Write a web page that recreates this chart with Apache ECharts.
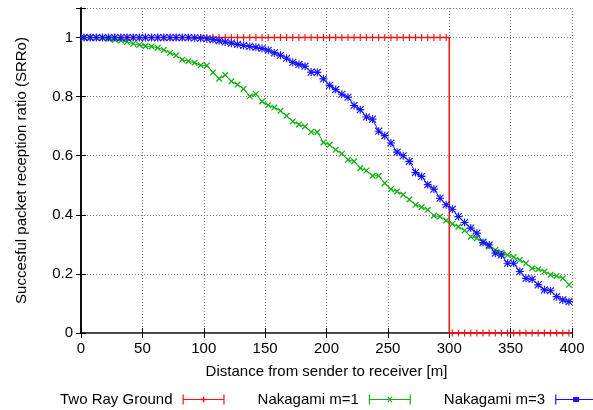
<!DOCTYPE html>
<html>
<head>
<meta charset="utf-8">
<script src="https://cdn.jsdelivr.net/npm/echarts@6/dist/echarts.min.js"></script>
<style>html,body{margin:0;padding:0;background:#fff;}#c{width:593px;height:410px;}</style>
</head>
<body>
<div id="c"></div>
<script>
// distance sample positions [m]
const distX = [2.5,7.5,12.5,17.5,22.5,27.5,32.5,37.5,42.5,47.5,52.5,57.5,62.5,67.5,72.5,77.5,82.5,87.5,92.5,97.5,
  102.5,107.5,112.5,117.5,122.5,127.5,132.5,137.5,142.5,147.5,152.5,157.5,162.5,167.5,172.5,177.5,182.5,187.5,192.5,197.5,
  202.5,207.5,212.5,217.5,222.5,227.5,232.5,237.5,242.5,247.5,252.5,257.5,262.5,267.5,272.5,277.5,282.5,287.5,292.5,297.5,
  302.5,307.5,312.5,317.5,322.5,327.5,332.5,337.5,342.5,347.5,352.5,357.5,362.5,367.5,372.5,377.5,382.5,387.5,392.5,397.5];
// Two Ray Ground
const twoRayY = [1,1,1,1,1,1,1,1,1,1,1,1,1,1,1,1,1,1,1,1,
  1,1,1,1,1,1,1,1,1,1,1,1,1,1,1,1,1,1,1,1,
  1,1,1,1,1,1,1,1,1,1,1,1,1,1,1,1,1,1,1,1,
  0,0,0,0,0,0,0,0,0,0,0,0,0,0,0,0,0,0,0,0];
const twoRayDropAt = 300;
// Nakagami m=1
const nak1Y = [1.0,1.0,1.0,0.999,0.996,0.993,0.99,0.985,0.979,0.975,0.971,0.970,0.965,0.958,0.948,0.94,0.925,0.92,0.915,0.906,
  0.905,0.882,0.861,0.873,0.852,0.841,0.826,0.801,0.809,0.784,0.771,0.763,0.752,0.735,0.716,0.706,0.699,0.680,0.680,0.645,
  0.637,0.620,0.607,0.586,0.581,0.558,0.550,0.532,0.532,0.507,0.487,0.479,0.468,0.452,0.434,0.426,0.417,0.397,0.394,0.381,
  0.369,0.360,0.347,0.326,0.321,0.309,0.293,0.281,0.272,0.264,0.257,0.247,0.236,0.219,0.216,0.208,0.197,0.193,0.185,0.163];
// Nakagami m=3
const nak3Y = [1,1,1,1,1,1,1,1,1,1,1,1,1,1,1,1,1,1,0.999,0.998,
  0.996,0.993,0.989,0.985,0.981,0.977,0.973,0.970,0.967,0.963,0.957,0.948,0.940,0.930,0.916,0.909,0.903,0.883,0.882,0.860,
  0.838,0.824,0.808,0.798,0.770,0.756,0.731,0.724,0.683,0.668,0.643,0.612,0.600,0.581,0.543,0.530,0.502,0.487,0.456,0.434,
  0.419,0.394,0.374,0.355,0.338,0.306,0.298,0.270,0.264,0.236,0.236,0.208,0.185,0.182,0.163,0.146,0.143,0.123,0.112,0.106];
const xTicks = {min: 0, max: 400, interval: 50};
const yTicks = {min: 0, max: 1.1, interval: 0.2};
const seriesNames = ['Two Ray Ground', 'Nakagami m=1', 'Nakagami m=3'];
const xName = 'Distance from sender to receiver [m]';
const yName = 'Succesful packet reception ratio (SRRo)';

const FONT = 'Liberation Sans, Arial, Helvetica, sans-serif';
const PLUS = 'path://M0,4.2H10V5.8H0Z M4.2,0H5.8V10H4.2Z';
const STAR = 'path://M0,4.3H10V5.7H0Z M4.3,0H5.7V10H4.3Z M1.2,0.2L9.8,8.8L8.8,9.8L0.2,1.2Z M8.8,0.2L9.8,1.2L1.2,9.8L0.2,8.8Z';
const capLine = 'M0,0H1.2V10H0Z M0,4.4H42V5.6H0Z M40.8,0H42V10H40.8Z';
const iconRed = 'path://' + capLine + ' M20.3,2H21.7V8H20.3Z M18,4.3H24V5.7H18Z';
const iconGreen = 'path://' + capLine + ' M18.5,2.5L19.5,2L23.5,7.5L22.5,8Z M22.5,2L23.5,2.5L19.5,8L18.5,7.5Z';
const iconBlue = 'path://' + capLine + ' M18,2.5H24V7.5H18Z';

const redData = [];
distX.forEach((x, i) => {
  if (i > 0 && distX[i-1] < twoRayDropAt && x > twoRayDropAt) {
    redData.push({value: [twoRayDropAt, twoRayY[i-1]], symbol: 'none'});
    redData.push({value: [twoRayDropAt, twoRayY[i]], symbol: 'none'});
  }
  redData.push([x, twoRayY[i]]);
});
const g1 = distX.map((x, i) => [x, nak1Y[i]]);
const g3 = distX.map((x, i) => [x, nak3Y[i]]);

const colors = ['#ff1010', '#10b010', '#1414ff'];
const chart = echarts.init(document.getElementById('c'), null, {renderer: 'canvas'});
const gridLine = {show: true, lineStyle: {type: [1, 2], color: '#777', width: 1}};
chart.setOption({
  animation: false,
  backgroundColor: '#fff',
  grid: {left: 81, right: 21, top: 8, bottom: 77, containLabel: false},
  legend: {
    left: 60, top: 392, width: 560, padding: 0, align: 'right', itemGap: 33, itemWidth: 42, itemHeight: 10,
    textStyle: {fontFamily: FONT, fontSize: 15, color: '#000', padding: [0, 5, 0, 0]},
    data: [
      {name: seriesNames[0], icon: iconRed},
      {name: seriesNames[1], icon: iconGreen},
      {name: seriesNames[2], icon: iconBlue}
    ]
  },
  xAxis: [{
    type: 'value', min: xTicks.min, max: xTicks.max, interval: xTicks.interval, position: 'bottom',
    name: xName, nameLocation: 'middle', nameGap: 31,
    nameTextStyle: {fontFamily: FONT, fontSize: 15, color: '#000'},
    axisLine: {show: true, lineStyle: {color: '#000', width: 1.5}},
    axisTick: {show: true, inside: true, length: 5, lineStyle: {color: '#000'}},
    axisLabel: {fontFamily: FONT, fontSize: 15, color: '#000', margin: 8},
    splitLine: gridLine
  }, {
    type: 'value', min: xTicks.min, max: xTicks.max, interval: xTicks.interval, position: 'top',
    axisLine: {show: true, lineStyle: {color: '#555', width: 1}},
    axisTick: {show: true, inside: true, length: 5, lineStyle: {color: '#000'}},
    axisLabel: {show: false}, splitLine: {show: false}
  }],
  yAxis: [{
    type: 'value', min: yTicks.min, max: yTicks.max, interval: yTicks.interval, position: 'left',
    name: yName, nameLocation: 'middle', nameGap: 52,
    nameTextStyle: {fontFamily: FONT, fontSize: 15, color: '#000'},
    axisLine: {show: true, lineStyle: {color: '#000', width: 1.5}},
    axisTick: {show: true, inside: true, length: 5, lineStyle: {color: '#000'}},
    axisLabel: {fontFamily: FONT, fontSize: 15, color: '#000', margin: 8,
      formatter: v => v > 1.05 ? '' : String(+v.toFixed(1))},
    splitLine: gridLine
  }, {
    type: 'value', min: yTicks.min, max: yTicks.max, interval: yTicks.interval, position: 'right',
    axisLine: {show: true, lineStyle: {color: '#000', width: 1.5}},
    axisTick: {show: true, inside: true, length: 5, lineStyle: {color: '#000'}},
    axisLabel: {show: false}, splitLine: {show: false}
  }],
  series: [{
    name: seriesNames[0], type: 'line', data: redData, xAxisIndex: 0, yAxisIndex: 0,
    symbol: PLUS, symbolSize: 7, showAllSymbol: true, z: 2,
    lineStyle: {color: colors[0], width: 1.5}, itemStyle: {color: colors[0]}
  }, {
    name: seriesNames[1], type: 'line', data: g1, xAxisIndex: 0, yAxisIndex: 0,
    symbol: PLUS, symbolRotate: 45, symbolSize: 8, showAllSymbol: true, z: 3,
    lineStyle: {color: colors[1], width: 1}, itemStyle: {color: colors[1]}
  }, {
    name: seriesNames[2], type: 'line', data: g3, xAxisIndex: 0, yAxisIndex: 0,
    symbol: STAR, symbolSize: 8, showAllSymbol: true, z: 4,
    lineStyle: {color: colors[2], width: 1}, itemStyle: {color: colors[2]}
  }]
});
</script>
</body>
</html>
